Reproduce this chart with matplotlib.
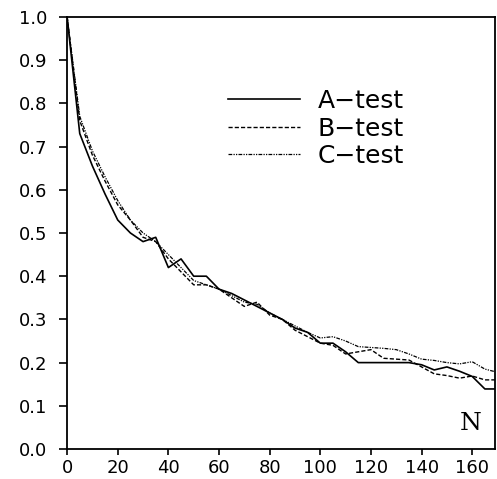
import matplotlib
matplotlib.use("Agg")
import matplotlib.pyplot as plt

n_vals = [0, 5, 10, 15, 20, 25, 30, 35, 40, 45, 50, 55, 60, 65, 70, 75, 80, 85,
          90, 95, 100, 105, 110, 115, 120, 125, 130, 135, 140, 145, 150, 155,
          160, 165, 169]

a_test = [1.0, 0.73, 0.655, 0.59, 0.53, 0.50, 0.48, 0.49, 0.42, 0.44, 0.40, 0.40,
          0.37, 0.36, 0.345, 0.33, 0.315, 0.30, 0.28, 0.27, 0.245, 0.245, 0.225,
          0.20, 0.20, 0.20, 0.20, 0.20, 0.195, 0.183, 0.19, 0.18, 0.168, 0.139, 0.139]

b_test = [1.0, 0.76, 0.68, 0.62, 0.565, 0.53, 0.49, 0.48, 0.44, 0.41, 0.38, 0.38,
          0.37, 0.35, 0.33, 0.34, 0.31, 0.30, 0.275, 0.26, 0.245, 0.24, 0.22,
          0.225, 0.23, 0.21, 0.208, 0.206, 0.19, 0.174, 0.17, 0.164, 0.169, 0.16, 0.16]

c_test = [1.0, 0.77, 0.69, 0.63, 0.575, 0.53, 0.50, 0.48, 0.45, 0.42, 0.39, 0.38,
          0.37, 0.355, 0.34, 0.335, 0.315, 0.30, 0.285, 0.27, 0.257, 0.26, 0.25,
          0.237, 0.235, 0.233, 0.23, 0.22, 0.208, 0.205, 0.20, 0.197, 0.202, 0.185, 0.179]

x_ticks = [0, 20, 40, 60, 80, 100, 120, 140, 160]
y_ticks = [0.0, 0.1, 0.2, 0.3, 0.4, 0.5, 0.6, 0.7, 0.8, 0.9, 1.0]

fig = plt.figure(figsize=(4.97, 4.79), dpi=100)
ax = fig.add_axes([0.135, 0.0626, 0.861, 0.902])

ax.plot(n_vals, a_test, color="black", lw=1.2, label="A\u2212test")
ax.plot(n_vals, b_test, color="black", lw=1.0, linestyle=(0, (3, 1.5)), label="B\u2212test")
ax.plot(n_vals, c_test, color="black", lw=0.9, linestyle=(0, (3, 1, 1, 1, 1, 1)), label="C\u2212test")

ax.set_xlim(0, 169)
ax.set_ylim(0, 1.0)
ax.set_xticks(x_ticks)
ax.set_yticks(y_ticks)
ax.set_yticklabels([f"{v:.1f}" for v in y_ticks])
ax.tick_params(axis="x", direction="out", length=4.5, width=1.2, labelsize=13, pad=3)
ax.tick_params(axis="y", direction="out", length=5.5, width=1.2, labelsize=13, pad=9)
for s in ax.spines.values():
    s.set_linewidth(1.3)

ax.text(0.942, 0.032, "N", transform=ax.transAxes, fontsize=18,
        family="DejaVu Serif", ha="center", va="bottom")

ax.legend(loc="upper left", bbox_to_anchor=(0.376, 0.833), frameon=False,
          borderpad=0, borderaxespad=0, fontsize=18, handlelength=2.9,
          labelspacing=0.14, handletextpad=0.7)

plt.savefig("out.png", dpi=100)
